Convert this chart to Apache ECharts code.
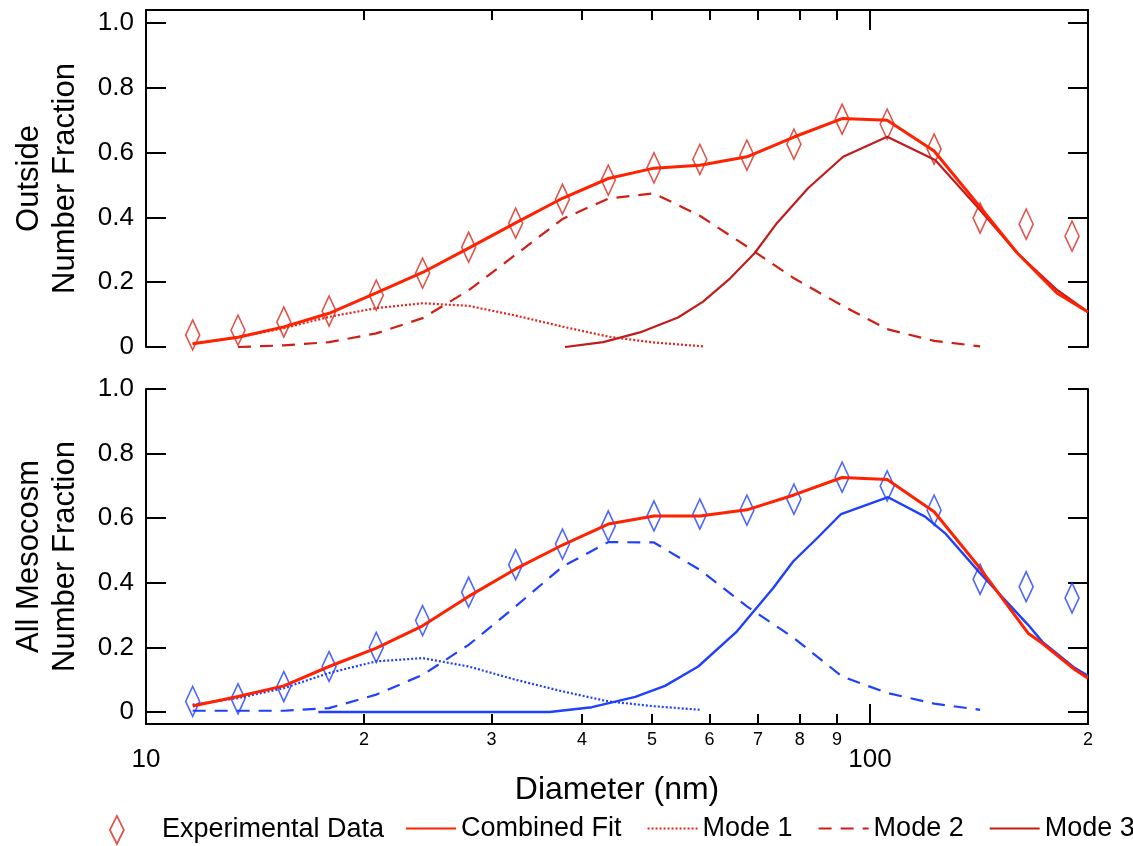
<!DOCTYPE html>
<html>
<head>
<meta charset="utf-8">
<script src="https://cdn.jsdelivr.net/npm/echarts@6/dist/echarts.min.js"></script>
<style>
html,body{margin:0;padding:0;background:#fff;}
#chart{width:1133px;height:846px;}
</style>
</head>
<body>
<div id="chart"></div>
<script>
// ---------- data (diameters in nm, values are number fraction) ----------
const dataDia = [11.6, 13.4, 15.5, 17.9, 20.8, 24.1, 27.9, 32.4, 37.6, 43.5, 50.3, 58.2, 67.6, 78.5, 91.5, 105.6, 122.6, 141.9, 164.3, 190.1];
const outsideData = [0.037, 0.052, 0.077, 0.111, 0.160, 0.228, 0.308, 0.382, 0.456, 0.515, 0.553, 0.579, 0.592, 0.626, 0.703, 0.688, 0.611, 0.398, 0.379, 0.342];
const mesoData = [0.033, 0.041, 0.079, 0.141, 0.200, 0.283, 0.371, 0.456, 0.520, 0.576, 0.607, 0.613, 0.625, 0.659, 0.727, 0.700, 0.625, 0.411, 0.388, 0.353];

// Outside fits
const outFitDia = [11.6, 13.4, 15.5, 17.9, 20.8, 24.1, 27.9, 32.4, 37.6, 43.5, 50.3, 58.2, 67.6, 78.5, 91.5, 105.6, 122.6, 141.9, 159.7, 181.3, 200];
const outFitVal = [0.010, 0.030, 0.062, 0.104, 0.167, 0.230, 0.305, 0.383, 0.459, 0.520, 0.552, 0.561, 0.587, 0.648, 0.705, 0.700, 0.605, 0.432, 0.290, 0.166, 0.108];
const outMode1Dia = [11.6, 13.4, 15.5, 17.9, 20.8, 24.1, 27.9, 32.4, 37.6, 43.5, 50.3, 58.8];
const outMode1Val = [0.010, 0.030, 0.058, 0.093, 0.120, 0.135, 0.127, 0.097, 0.063, 0.032, 0.014, 0.002];
const outMode2Dia = [13.4, 15.5, 17.9, 20.8, 24.1, 27.9, 32.4, 37.6, 43.5, 50.3, 58.2, 67.6, 78.5, 91.5, 105.6, 122.6, 141.9];
const outMode2Val = [0.000, 0.005, 0.015, 0.042, 0.089, 0.175, 0.285, 0.395, 0.458, 0.474, 0.405, 0.310, 0.212, 0.128, 0.055, 0.019, 0.002];
const outMode3Dia = [37.9, 42.8, 48.1, 54.3, 58.8, 64.1, 69.3, 74.4, 82.1, 91.8, 105.6, 123, 141, 159.7, 181.3, 200];
const outMode3Val = [0.000, 0.015, 0.045, 0.091, 0.140, 0.212, 0.290, 0.383, 0.490, 0.587, 0.649, 0.577, 0.430, 0.290, 0.176, 0.108];

// All Mesocosm fits
const mesoFitDia = [11.6, 13.4, 15.5, 17.9, 20.8, 24.1, 27.9, 32.4, 37.6, 43.5, 50.3, 58.2, 67.6, 78.5, 91.5, 105.6, 122.6, 141.9, 165.3, 172.9, 191.9, 200];
const mesoFitVal = [0.019, 0.048, 0.081, 0.141, 0.198, 0.267, 0.358, 0.443, 0.517, 0.582, 0.607, 0.607, 0.626, 0.672, 0.726, 0.720, 0.620, 0.445, 0.244, 0.213, 0.131, 0.105];
const mesoMode1Dia = [11.6, 13.4, 15.5, 17.9, 20.8, 24.1, 27.9, 32.4, 37.6, 43.5, 50.3, 58.2];
const mesoMode1Val = [0.023, 0.043, 0.074, 0.121, 0.157, 0.167, 0.141, 0.100, 0.064, 0.033, 0.018, 0.007];
const mesoMode2Dia = [11.6, 13.4, 15.5, 17.9, 20.8, 24.1, 27.9, 32.4, 37.6, 43.5, 50.3, 58.2, 67.6, 78.5, 91.5, 105.6, 122.6, 141.9];
const mesoMode2Val = [0.004, 0.004, 0.004, 0.012, 0.054, 0.115, 0.208, 0.327, 0.450, 0.526, 0.525, 0.440, 0.327, 0.229, 0.110, 0.059, 0.026, 0.007];
const mesoMode3Dia = [17.3, 36.1, 41.3, 47.4, 52.1, 57.9, 65.5, 73.5, 78.3, 84.5, 91.2, 105.9, 119.1, 126.9, 141.9, 165.3, 172.9, 191.9, 200];
const mesoMode3Val = [0.000, 0.000, 0.015, 0.047, 0.081, 0.141, 0.250, 0.384, 0.466, 0.538, 0.613, 0.665, 0.605, 0.554, 0.430, 0.270, 0.218, 0.136, 0.112];

// ticks / labels
const xMinorTicks = [20, 30, 40, 50, 60, 70, 80, 90];
const xMinorLabels = [20, 30, 40, 50, 60, 70, 80, 90, 200];
const xMajorTicks = [100];
const xMajorLabels = [10, 100];
const yTicks = [0, 0.2, 0.4, 0.6, 0.8, 1.0];

// ---------- chart ----------
const zip = (d, v) => d.map((x, i) => [x, v[i]]);
const FONT = '"Liberation Sans", Arial, sans-serif';
const RED = '#FF2200';
const RED_DATA = '#D42A1E';
const RED_M1 = '#E8221A';
const RED_M2 = '#D01E12';
const RED_M3 = '#C01C1C';
const BLUE = '#1F40FF';
const DIAMOND = 'path://M5,0 L10,10 L5,20 L0,10 Z';

const axLine = { show: true, onZero: false, lineStyle: { color: '#000', width: 2 } };
const noLine = { show: false, onZero: false };
const tickStyle = { color: '#000', width: 2 };

function xAxisBase(grid, pos) {
  return {
    type: 'log', gridIndex: grid, position: pos, min: 10, max: 200, logBase: 10,
    splitLine: { show: false }, minorTick: { show: false }, minorSplitLine: { show: false }
  };
}
function yAxisBase(grid, pos, min, max) {
  return {
    type: 'value', gridIndex: grid, position: pos, min: min, max: max,
    splitLine: { show: false },
    axisLine: axLine,
    axisTick: { show: true, inside: true, length: 20, customValues: yTicks, lineStyle: tickStyle },
    axisLabel: { show: false }
  };
}
const yLabel = {
  show: true, inside: false, margin: 12, customValues: yTicks,
  fontSize: 26, color: '#000', fontFamily: FONT,
  formatter: v => (v === 0 ? '0' : v.toFixed(1))
};
const yName = { fontSize: 31, lineHeight: 36, color: '#000', fontFamily: FONT };

const chart = echarts.init(document.getElementById('chart'));
const option = {
  animation: false,
  backgroundColor: '#fff',
  grid: [
    { left: 146, right: 45, top: 10, height: 337 },
    { left: 146, right: 45, top: 389, height: 335 }
  ],
  xAxis: [
    Object.assign(xAxisBase(0, 'top'), {
      axisLine: axLine,
      axisTick: { show: true, inside: true, length: 10, customValues: xMinorTicks, lineStyle: tickStyle },
      axisLabel: { show: false }
    }),
    Object.assign(xAxisBase(0, 'top'), {
      axisLine: noLine,
      axisTick: { show: true, inside: true, length: 20, customValues: xMajorTicks, lineStyle: tickStyle },
      axisLabel: { show: false }
    }),
    Object.assign(xAxisBase(1, 'bottom'), {
      axisLine: axLine,
      axisTick: { show: true, inside: true, length: 10, customValues: xMinorTicks, lineStyle: tickStyle },
      axisLabel: {
        show: true, margin: 7, customValues: xMinorLabels, fontSize: 18, color: '#000', fontFamily: FONT,
        formatter: v => String(Math.round(v >= 200 ? v / 100 : v / 10))
      }
    }),
    Object.assign(xAxisBase(1, 'bottom'), {
      axisLine: noLine,
      axisTick: { show: true, inside: true, length: 20, customValues: xMajorTicks, lineStyle: tickStyle },
      axisLabel: {
        show: true, margin: 23, customValues: xMajorLabels, fontSize: 26, color: '#000', fontFamily: FONT,
        formatter: v => String(Math.round(v))
      },
      name: 'Diameter (nm)', nameLocation: 'middle', nameGap: 50,
      nameTextStyle: { fontSize: 32, color: '#000', fontFamily: FONT }
    })
  ],
  yAxis: [
    Object.assign(yAxisBase(0, 'left', 0, 1.04), {
      axisLabel: yLabel,
      name: 'Outside\nNumber Fraction', nameLocation: 'middle', nameGap: 63, nameTextStyle: yName
    }),
    yAxisBase(0, 'right', 0, 1.04),
    Object.assign(yAxisBase(1, 'left', -0.037, 1.0), {
      axisLabel: yLabel,
      name: 'All Mesocosm\nNumber Fraction', nameLocation: 'middle', nameGap: 63, nameTextStyle: yName
    }),
    yAxisBase(1, 'right', -0.037, 1.0)
  ],
  legend: [
    {
      left: 109, top: 815, padding: 0, itemWidth: 80, itemHeight: 28,
      textStyle: { fontSize: 27, color: '#000', fontFamily: FONT },
      data: [{ name: 'Experimental Data', icon: DIAMOND, itemStyle: { color: 'transparent', borderColor: RED_DATA, borderWidth: 1.8 } }]
    },
    {
      left: 405, top: 815, width: 760, padding: 0, itemWidth: 50, itemHeight: 28, itemGap: 25,
      itemStyle: { opacity: 0 },
      textStyle: { fontSize: 27, color: '#000', fontFamily: FONT },
      data: ['Combined Fit', 'Mode 1', 'Mode 2', 'Mode 3']
    }
  ],
  series: [
    // ---- Outside (top) ----
    { name: 'Mode 1', type: 'line', xAxisIndex: 0, yAxisIndex: 0, data: zip(outMode1Dia, outMode1Val),
      symbol: 'none', color: RED_M1, lineStyle: { color: RED_M1, width: 2.2, type: [2, 2] } },
    { name: 'Mode 2', type: 'line', xAxisIndex: 0, yAxisIndex: 0, data: zip(outMode2Dia, outMode2Val),
      symbol: 'none', color: RED_M2, lineStyle: { color: RED_M2, width: 2.2, type: [13, 9] } },
    { name: 'Mode 3', type: 'line', xAxisIndex: 0, yAxisIndex: 0, data: zip(outMode3Dia, outMode3Val),
      symbol: 'none', color: RED_M3, lineStyle: { color: RED_M3, width: 2.2 } },
    { name: 'Combined Fit', type: 'line', xAxisIndex: 0, yAxisIndex: 0, data: zip(outFitDia, outFitVal),
      symbol: 'none', color: RED, lineStyle: { color: RED, width: 3 } },
    { name: 'Experimental Data', type: 'scatter', xAxisIndex: 0, yAxisIndex: 0, data: zip(dataDia, outsideData),
      symbol: DIAMOND, symbolSize: [14, 30], color: RED_DATA,
      itemStyle: { color: 'transparent', borderColor: RED_DATA, borderWidth: 1.8 } },
    // ---- All Mesocosm (bottom) ----
    { name: 'Mode 1', type: 'line', xAxisIndex: 2, yAxisIndex: 2, data: zip(mesoMode1Dia, mesoMode1Val),
      symbol: 'none', color: BLUE, lineStyle: { color: BLUE, width: 2.2, type: [2, 2] } },
    { name: 'Mode 2', type: 'line', xAxisIndex: 2, yAxisIndex: 2, data: zip(mesoMode2Dia, mesoMode2Val),
      symbol: 'none', color: BLUE, lineStyle: { color: BLUE, width: 2.2, type: [13, 9] } },
    { name: 'Mode 3', type: 'line', xAxisIndex: 2, yAxisIndex: 2, data: zip(mesoMode3Dia, mesoMode3Val),
      symbol: 'none', color: BLUE, lineStyle: { color: BLUE, width: 2.4 } },
    { name: 'Combined Fit', type: 'line', xAxisIndex: 2, yAxisIndex: 2, data: zip(mesoFitDia, mesoFitVal),
      symbol: 'none', color: RED, lineStyle: { color: RED, width: 3 } },
    { name: 'Experimental Data', type: 'scatter', xAxisIndex: 2, yAxisIndex: 2, data: zip(dataDia, mesoData),
      symbol: DIAMOND, symbolSize: [14, 30], color: BLUE,
      itemStyle: { color: 'transparent', borderColor: BLUE, borderWidth: 1.8 } }
  ]
};
chart.setOption(option);
</script>
</body>
</html>
